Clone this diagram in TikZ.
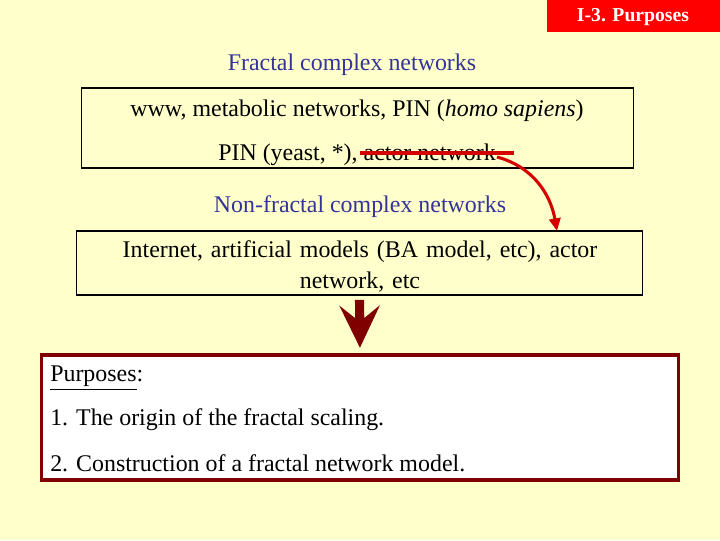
\documentclass[tikz,border=0pt]{standalone}
\usepackage{fontspec}
\setmainfont{Liberation Serif}
\usetikzlibrary{arrows.meta}

\definecolor{hintergrund}{HTML}{FFFFCC}
\definecolor{titelblau}{HTML}{333399}
\definecolor{dunkelrot}{HTML}{800000}
\definecolor{strichrot}{HTML}{D40000}

\tikzset{
    rahmen/.style={draw=black, line width=0.8pt, inner sep=0pt},
    zeile/.style={font=\fontsize{17}{20}\selectfont, inner sep=0pt, yshift=-2.2pt},
    ueberschrift/.style={zeile, text=titelblau},
}

\begin{document}
\begin{tikzpicture}[x=0.025cm, y=-0.025cm]

        \fill[hintergrund] (0,0) rectangle (720,540);
        \useasboundingbox (0,0) rectangle (720,540);

        % Kopfzeile
        \fill[red] (547,0) rectangle (720,32);
        \node [text=white, font=\bfseries\fontsize{14}{16}\selectfont] (kopf) at (633,17) {I-3. Purposes};

        % fraktale Netzwerke
        \node [ueberschrift] (fraktaltitel) at (352,62) {Fractal complex networks};
        \node [rahmen, minimum width=13.775cm, minimum height=2cm] (fraktalbox) at (357.5,128) {};
        \node [zeile] (zeileeins) at (357,108) {www, metabolic networks, PIN (\textit{homo sapiens})};
        \node [zeile] (zeilezwei) at (357,152) {PIN (yeast, *), actor network};

        % Durchstreichen und Bogenpfeil
        \coordinate (strichanfang) at (360,153);
        \coordinate (strichende) at (514,153);
        \coordinate (bogenstart) at (497,157);
        \draw [strichrot, line width=2.2pt] (strichanfang) -- (strichende);

        % nicht-fraktale Netzwerke
        \node [ueberschrift] (nichtfraktaltitel) at (360,204) {Non-fractal complex networks};
        \node [rahmen, minimum width=14.125cm, minimum height=1.6cm] (nichtfraktalbox) at (359.5,263) {};
        \node [zeile, text width=14cm, align=center] (internet) at (360,263.5)
            {Internet, artificial models (BA model, etc), actor\\[2pt] network, etc};
        \coordinate (bogenende) at (557,231);
        \draw [strichrot, line width=2.2pt, -{Triangle[length=9pt, width=8pt]}]
            (bogenstart) to[out=-15, in=100] (bogenende);

        % Ziele
        \node [draw=dunkelrot, fill=white, line width=2.2pt, minimum width=15.9cm, minimum height=3.125cm] (zielbox) at (360,417.5) {};
        \node [zeile, anchor=west] (zieltitel) at (50,375) {\underline{Purposes}:};
        \node [zeile, anchor=west] (zieleins) at (50,417) {1. The origin of the fractal scaling.};
        \node [zeile, anchor=west] (zielzwei) at (50,460) {2. Construction of a fractal network model.};

        % dicker Pfeil
        \draw [dunkelrot, line width=6.5pt, shorten <=3pt, shorten >=4pt,
               -{Stealth[length=1.05cm, width=1cm, inset=0.4cm]}]
            (nichtfraktalbox.south) -- (zielbox.north);

\end{tikzpicture}
\end{document}
